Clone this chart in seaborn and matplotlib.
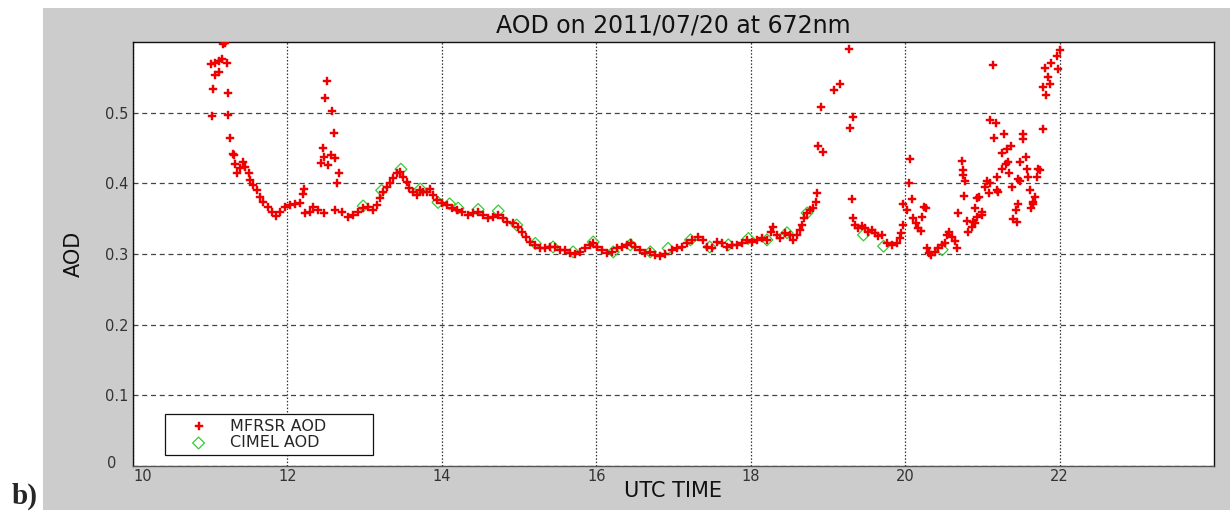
import pandas as pd
import seaborn as sns
import matplotlib.pyplot as plt
from matplotlib.patches import Rectangle
from matplotlib.transforms import ScaledTranslation

# MFRSR AOD readings (UTC hour, AOD)
mfrsr_time = [
    11.01, 11.02, 11.04, 11.06, 11.06, 11.11, 11.11, 11.15, 11.17, 11.19,
    11.22, 11.23, 11.23, 11.26, 11.30, 11.31, 11.32, 11.35, 11.39, 11.42,
    11.45, 11.50, 11.52, 11.56, 11.61, 11.65, 11.69, 11.75, 11.80, 11.85,
    11.90, 11.97, 12.03, 12.10, 12.16, 12.20, 12.21, 12.23, 12.29, 12.33,
    12.40, 12.43, 12.46, 12.47, 12.47, 12.49, 12.51, 12.53, 12.56, 12.58,
    12.60, 12.62, 12.62, 12.64, 12.67, 12.71, 12.79, 12.85, 12.91, 12.98,
    13.04, 13.11, 13.16, 13.20, 13.24, 13.29, 13.33, 13.37, 13.42, 13.46,
    13.50, 13.55, 13.58, 13.63, 13.68, 13.72, 13.76, 13.81, 13.85, 13.89,
    13.94, 14.00, 14.07, 14.13, 14.20, 14.26, 14.34, 14.40, 14.47, 14.53,
    14.60, 14.66, 14.73, 14.79, 14.84, 14.92, 14.99, 15.04, 15.09, 15.14,
    15.21, 15.27, 15.34, 15.40, 15.47, 15.53, 15.60, 15.66, 15.73, 15.79,
    15.85, 15.92, 15.96, 16.01, 16.08, 16.14, 16.20, 16.27, 16.33, 16.40,
    16.45, 16.50, 16.57, 16.63, 16.70, 16.76, 16.83, 16.89, 16.98, 17.05,
    17.11, 17.18, 17.24, 17.32, 17.38, 17.43, 17.50, 17.56, 17.63, 17.69,
    17.76, 17.82, 17.89, 17.95, 18.02, 18.08, 18.15, 18.21, 18.26, 18.29,
    18.34, 18.38, 18.45, 18.51, 18.55, 18.60, 18.64, 18.67, 18.69, 18.73,
    18.77, 18.81, 18.85, 18.86, 18.87, 18.91, 18.94, 19.08, 19.15, 19.27,
    19.29, 19.31, 19.33, 19.33, 19.35, 19.39, 19.44, 19.48, 19.52, 19.57,
    19.61, 19.65, 19.70, 19.77, 19.83, 19.90, 19.93, 19.95, 19.97, 19.97,
    20.03, 20.05, 20.06, 20.09, 20.10, 20.14, 20.17, 20.20, 20.22, 20.24,
    20.27, 20.28, 20.31, 20.34, 20.39, 20.43, 20.48, 20.52, 20.54, 20.57,
    20.61, 20.64, 20.67, 20.69, 20.73, 20.75, 20.75, 20.76, 20.78, 20.80,
    20.82, 20.87, 20.88, 20.91, 20.91, 20.93, 20.93, 20.96, 21.00, 21.00,
    21.04, 21.06, 21.08, 21.10, 21.10, 21.14, 21.15, 21.18, 21.19, 21.19,
    21.20, 21.26, 21.26, 21.28, 21.31, 21.32, 21.33, 21.35, 21.37, 21.39,
    21.40, 21.43, 21.45, 21.46, 21.46, 21.49, 21.49, 21.53, 21.53, 21.57,
    21.58, 21.59, 21.62, 21.63, 21.65, 21.66, 21.68, 21.71, 21.72, 21.75,
    21.79, 21.79, 21.81, 21.83, 21.85, 21.87, 21.89, 21.97, 21.98, 22.01,
]
mfrsr_aod = [
    0.569, 0.495, 0.533, 0.570, 0.553, 0.573, 0.557, 0.576, 0.597, 0.598,
    0.570, 0.528, 0.496, 0.464, 0.441, 0.440, 0.428, 0.414, 0.421, 0.430,
    0.423, 0.414, 0.405, 0.397, 0.390, 0.380, 0.373, 0.366, 0.360, 0.354,
    0.360, 0.366, 0.369, 0.371, 0.372, 0.385, 0.392, 0.358, 0.360, 0.366,
    0.362, 0.429, 0.450, 0.437, 0.358, 0.521, 0.545, 0.426, 0.440, 0.503,
    0.471, 0.436, 0.362, 0.400, 0.414, 0.360, 0.352, 0.355, 0.359, 0.365,
    0.366, 0.362, 0.369, 0.379, 0.388, 0.395, 0.400, 0.407, 0.414, 0.416,
    0.409, 0.402, 0.393, 0.388, 0.383, 0.390, 0.388, 0.388, 0.392, 0.383,
    0.376, 0.372, 0.369, 0.365, 0.362, 0.360, 0.355, 0.358, 0.360, 0.355,
    0.351, 0.352, 0.355, 0.351, 0.345, 0.344, 0.338, 0.331, 0.324, 0.317,
    0.313, 0.308, 0.308, 0.310, 0.310, 0.306, 0.306, 0.301, 0.300, 0.303,
    0.308, 0.313, 0.315, 0.310, 0.306, 0.301, 0.303, 0.308, 0.310, 0.313,
    0.315, 0.310, 0.306, 0.301, 0.303, 0.298, 0.297, 0.300, 0.306, 0.308,
    0.310, 0.315, 0.320, 0.324, 0.320, 0.310, 0.308, 0.317, 0.315, 0.310,
    0.313, 0.313, 0.315, 0.320, 0.317, 0.320, 0.322, 0.320, 0.331, 0.338,
    0.327, 0.322, 0.330, 0.327, 0.320, 0.327, 0.334, 0.341, 0.351, 0.358,
    0.362, 0.365, 0.373, 0.386, 0.453, 0.508, 0.444, 0.532, 0.540, 0.590,
    0.478, 0.378, 0.494, 0.351, 0.341, 0.337, 0.339, 0.337, 0.331, 0.334,
    0.330, 0.325, 0.327, 0.315, 0.313, 0.315, 0.322, 0.330, 0.341, 0.371,
    0.362, 0.400, 0.434, 0.378, 0.351, 0.344, 0.337, 0.332, 0.352, 0.366,
    0.365, 0.308, 0.301, 0.298, 0.303, 0.308, 0.313, 0.315, 0.327, 0.331,
    0.324, 0.318, 0.308, 0.358, 0.431, 0.419, 0.412, 0.382, 0.403, 0.346,
    0.331, 0.338, 0.345, 0.365, 0.344, 0.379, 0.352, 0.380, 0.360, 0.355,
    0.395, 0.403, 0.386, 0.400, 0.489, 0.567, 0.464, 0.485, 0.409, 0.390,
    0.388, 0.443, 0.420, 0.470, 0.427, 0.448, 0.430, 0.414, 0.453, 0.395,
    0.349, 0.362, 0.345, 0.406, 0.371, 0.430, 0.403, 0.470, 0.463, 0.437,
    0.420, 0.409, 0.390, 0.365, 0.371, 0.373, 0.380, 0.409, 0.420, 0.419,
    0.477, 0.537, 0.563, 0.525, 0.550, 0.540, 0.570, 0.580, 0.562, 0.588,
]

# CIMEL AOD readings
cimel_time = [12.98, 13.22, 13.47, 13.72, 13.95, 14.10, 14.21, 14.47, 14.73, 14.97,
              15.21, 15.44, 15.70, 15.96, 16.22, 16.44, 16.70, 16.93, 17.22, 17.47,
              17.71, 17.97, 18.21, 18.47, 18.73, 19.46, 19.72, 20.48]
cimel_aod = [0.368, 0.390, 0.420, 0.392, 0.373, 0.371, 0.365, 0.363, 0.361, 0.341,
             0.315, 0.310, 0.303, 0.317, 0.303, 0.313, 0.303, 0.308, 0.320, 0.310,
             0.313, 0.322, 0.320, 0.330, 0.358, 0.327, 0.311, 0.306]

x_ticks = [10, 12, 14, 16, 18, 20, 22]
y_ticks = [0, 0.1, 0.2, 0.3, 0.4, 0.5]
y_tick_labels = ["0", "0.1", "0.2", "0.3", "0.4", "0.5"]

mfrsr = pd.DataFrame({"time": mfrsr_time, "aod": mfrsr_aod})
cimel = pd.DataFrame({"time": cimel_time, "aod": cimel_aod})

sns.set_style("white")
plt.rcParams["font.family"] = ["DejaVu Sans"]

fig = plt.figure(figsize=(12.3, 5.12), dpi=100, facecolor="white")
# grey matlab-style figure panel behind the axes
panel = Rectangle((43 / 1230, 2 / 512), 1 - 43 / 1230, 502 / 512,
                  transform=fig.transFigure, facecolor="#cccccc",
                  edgecolor="none", zorder=-10)
fig.patches.append(panel)
ax = fig.add_axes([133 / 1230, 46 / 512, 1081 / 1230, 424 / 512])
ax.set_zorder(1)
ax.set_facecolor("white")

sns.scatterplot(data=mfrsr, x="time", y="aod", ax=ax, marker="P", s=34,
                color="#ee0000", edgecolor="#ee0000", linewidth=0.3,
                label="MFRSR AOD", zorder=3)
sns.scatterplot(data=cimel, x="time", y="aod", ax=ax, marker="D", s=36,
                facecolor="none", edgecolor="#33cc33", linewidth=0.9,
                label="CIMEL AOD", zorder=2)

ax.set_xlim(10, 24)
ax.set_ylim(0, 0.6)
ax.set_xticks(x_ticks)
ax.set_yticks(y_ticks)
ax.set_xticklabels([str(t) for t in x_ticks])
ax.set_yticklabels(y_tick_labels)
ax.tick_params(direction="in", length=4, labelsize=10.5, colors="#222222",
               labelcolor="#333333")
ax.tick_params(axis="x", pad=2)

ax.xaxis.grid(True, linestyle=(0, (1.2, 1.5)), color="#333333", linewidth=0.9)
ax.yaxis.grid(True, linestyle=(0, (4, 3)), color="#444444", linewidth=0.9)
for side in ["left", "top", "right", "bottom"]:
    ax.spines[side].set_color("#111111")
    ax.spines[side].set_linewidth(1.0)
ax.spines["bottom"].set_color("#555555")

ax.set_title("AOD on 2011/07/20 at 672nm", fontsize=17, color="#111111", pad=7)
ax.set_xlabel("UTC TIME", fontsize=15, color="#111111", labelpad=-2)
ax.set_ylabel("AOD", fontsize=15, color="#111111", labelpad=15)

leg = ax.legend(loc="lower left", bbox_to_anchor=(0.0296, 0.026, 0.192, 0.09),
                mode="expand", borderaxespad=0, fancybox=False, framealpha=1,
                edgecolor="#111111", fontsize=11.5, handlelength=3.6,
                handletextpad=0.2, borderpad=0.3, labelspacing=0.1)
leg.get_frame().set_linewidth(0.9)

# matlab-like placement of the two labels at the origin corner
x0_label = ax.get_xticklabels()[0]
x0_label.set_ha("left")
y0_label = ax.get_yticklabels()[0]
y0_label.set_transform(y0_label.get_transform()
                       + ScaledTranslation(-0.12, 0.04, fig.dpi_scale_trans))

fig.text(12 / 1230, 16 / 512, "b)", fontsize=21, fontweight="bold",
         family="Liberation Serif", va="center", ha="left")

plt.savefig("out.png", dpi=100, facecolor=fig.get_facecolor())
